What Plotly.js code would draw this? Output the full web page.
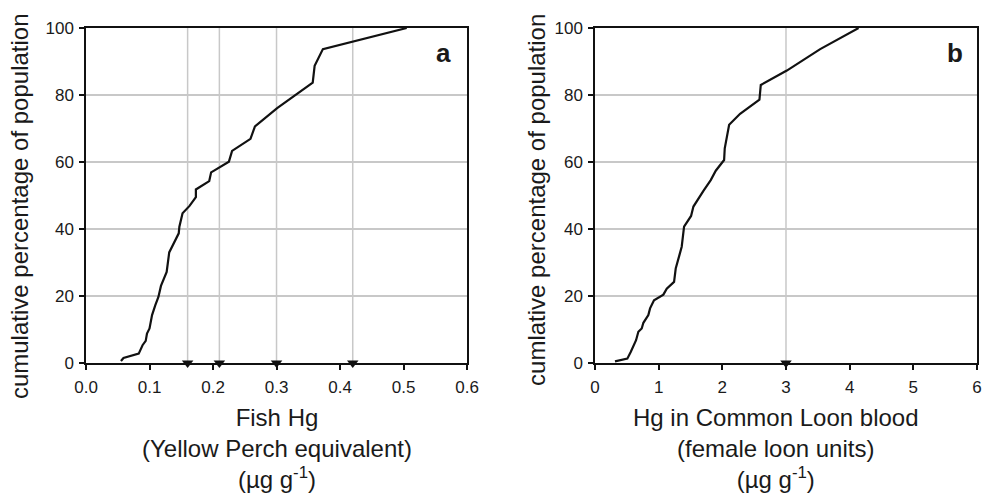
<!DOCTYPE html>
<html>
<head>
<meta charset="utf-8">
<script src="https://cdn.plot.ly/plotly-3.0.1.min.js"></script>
<style>html,body{margin:0;padding:0;background:#fff;}#chart{width:982px;height:495px;}</style>
</head>
<body>
<div id="chart"></div>
<script>
// Panel a: Fish Hg (Yellow Perch equivalent), µg/g
const fishHg = [0.055, 0.059, 0.083, 0.089, 0.094, 0.096, 0.100, 0.104, 0.109, 0.114, 0.118, 0.123, 0.127, 0.131, 0.140, 0.146, 0.147, 0.152, 0.163, 0.173, 0.173, 0.194, 0.197, 0.225, 0.230, 0.259, 0.266, 0.301, 0.357, 0.360, 0.373, 0.421, 0.505];
const fishPct = [0.6, 1.5, 2.8, 5.3, 6.6, 8.8, 10.3, 14.3, 17.2, 19.7, 23.0, 25.2, 27.2, 33.0, 36.7, 38.7, 40.7, 44.7, 46.9, 49.5, 51.8, 54.3, 56.9, 60.1, 63.3, 66.9, 70.6, 76.1, 83.7, 88.7, 93.7, 96.0, 100];
const fishThresholds = [0.16, 0.21, 0.30, 0.42];

// Panel b: Hg in Common Loon blood (female loon units), µg/g
const loonHg = [0.314, 0.508, 0.561, 0.603, 0.645, 0.681, 0.734, 0.760, 0.838, 0.865, 0.927, 1.074, 1.127, 1.242, 1.268, 1.326, 1.362, 1.399, 1.509, 1.546, 1.624, 1.703, 1.818, 1.897, 2.028, 2.038, 2.107, 2.279, 2.583, 2.604, 3.013, 3.537, 4.14];
const loonPct = [0.5, 1.3, 3.3, 5.3, 6.8, 9.3, 10.3, 12.0, 14.3, 16.3, 18.7, 20.4, 22.2, 24.2, 28.2, 32.2, 34.7, 40.7, 43.9, 46.7, 49.2, 51.4, 54.6, 57.4, 60.6, 64.1, 71.1, 74.4, 78.6, 83.0, 87.3, 93.7, 100];
const loonThresholds = [3];

const xTitleA = 'Fish Hg<br>(Yellow Perch equivalent)<br>(µg g<sup>-1</sup>)';
const xTitleB = 'Hg in Common Loon blood<br>(female loon units)<br>(µg g<sup>-1</sup>)';
const yTitleA = 'cumulative percentage of population';
const yTitleB = 'cumlative percentage of population';
const panelLabels = ['a', 'b'];

const FONT = 'Liberation Sans, Arial, Helvetica, sans-serif';
const GRID = '#c8c8c8';
const TXT = '#1a1a1a';

const traces = [
  {x: fishHg, y: fishPct, xaxis: 'x', yaxis: 'y', mode: 'lines', line: {color: '#111', width: 2.2}, hoverinfo: 'x+y'},
  {x: fishThresholds, y: fishThresholds.map(() => 0), xaxis: 'x', yaxis: 'y', mode: 'markers', cliponaxis: false,
   marker: {symbol: 'triangle-down', size: 10, color: '#111'}},
  {x: loonHg, y: loonPct, xaxis: 'x2', yaxis: 'y2', mode: 'lines', line: {color: '#111', width: 2.2}, hoverinfo: 'x+y'},
  {x: loonThresholds, y: loonThresholds.map(() => 0), xaxis: 'x2', yaxis: 'y2', mode: 'markers', cliponaxis: false,
   marker: {symbol: 'triangle-down', size: 10, color: '#111'}}
];

function vlines(vals, xref, yref) {
  return vals.map(v => ({type: 'line', xref: xref, yref: yref + ' domain', x0: v, x1: v, y0: 0, y1: 1,
    line: {color: GRID, width: 1.5}, layer: 'below'}));
}

const commonX = {
  showgrid: false, zeroline: false, showline: true, mirror: true, linecolor: '#111', linewidth: 1.5,
  ticks: 'outside', ticklen: 5, tickwidth: 1.5, tickcolor: '#111', ticklabelstandoff: 3,
  tickfont: {family: FONT, size: 17, color: TXT}, fixedrange: true
};
const commonY = {
  range: [0, 100], dtick: 20, showgrid: true, gridcolor: GRID, gridwidth: 1.5, zeroline: false,
  showline: true, mirror: true, linecolor: '#111', linewidth: 1.5,
  ticks: 'outside', ticklen: 5, tickwidth: 1.5, tickcolor: '#111', ticklabelstandoff: 2,
  tickfont: {family: FONT, size: 17, color: TXT}, fixedrange: true
};

function title(text, x, y, angle) {
  return {xref: 'paper', yref: 'paper', x: x, y: y, xanchor: 'center', yanchor: 'middle', showarrow: false,
    text: text, textangle: angle, font: {family: FONT, size: 24, color: TXT}};
}

const layout = {
  width: 982, height: 495,
  margin: {l: 0, r: 0, t: 0, b: 0},
  paper_bgcolor: '#fff', plot_bgcolor: '#fff',
  showlegend: false,
  xaxis: Object.assign({}, commonX, {domain: [0.0876, 0.4756], range: [0, 0.6], dtick: 0.1, tickformat: '.1f', anchor: 'y'}),
  yaxis: Object.assign({}, commonY, {domain: [0.2667, 0.9434], anchor: 'x'}),
  xaxis2: Object.assign({}, commonX, {domain: [0.6059, 0.9949], range: [0, 6], dtick: 1, anchor: 'y2'}),
  yaxis2: Object.assign({}, commonY, {domain: [0.2667, 0.9434], anchor: 'x2'}),
  shapes: vlines(fishThresholds, 'x', 'y').concat(vlines(loonThresholds, 'x2', 'y2')),
  annotations: [
    title(xTitleA, 0.2821, 0.0949, 0),
    title(xTitleB, 0.7902, 0.0949, 0),
    title(yTitleA, 0.0194, 0.5838, -90),
    title(yTitleB, 0.5468, 0.5960, -90),
    {xref: 'x domain', yref: 'y domain', x: 0.963, y: 0.9245, xanchor: 'right', yanchor: 'middle', showarrow: false,
     text: '<b>' + panelLabels[0] + '</b>', font: {family: FONT, size: 26, color: TXT}},
    {xref: 'x2 domain', yref: 'y2 domain', x: 0.9686, y: 0.9245, xanchor: 'right', yanchor: 'middle', showarrow: false,
     text: '<b>' + panelLabels[1] + '</b>', font: {family: FONT, size: 26, color: TXT}}
  ]
};

Plotly.newPlot('chart', traces, layout, {displayModeBar: false});
</script>
</body>
</html>
